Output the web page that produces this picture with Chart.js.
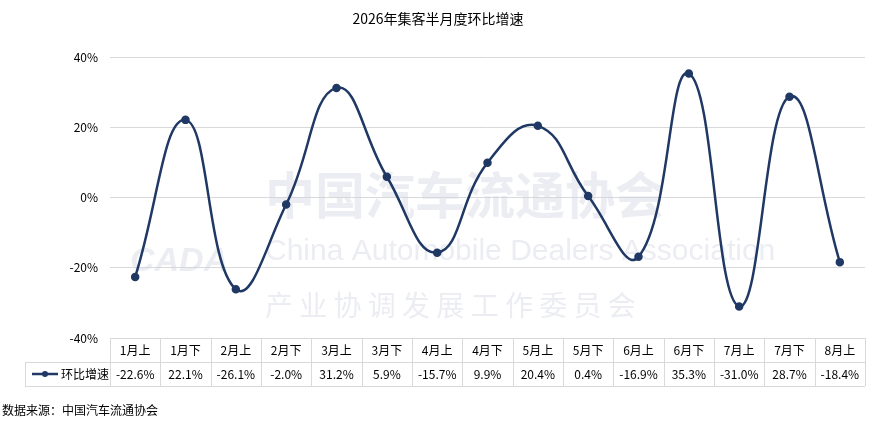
<!DOCTYPE html>
<html><head><meta charset="utf-8">
<script src="https://cdn.jsdelivr.net/npm/chart.js@4"></script>
<style>body{margin:0;background:#fff}#w{width:877px;height:422px}</style>
</head><body><div id="w"><canvas id="c" width="877" height="422"></canvas></div>
<script>
const categories=['1月上','1月下','2月上','2月下','3月上','3月下','4月上','4月下','5月上','5月下','6月上','6月下','7月上','7月下','8月上'];
const growth=[-22.6,22.1,-26.1,-2.0,31.2,5.9,-15.7,9.9,20.4,0.4,-16.9,35.3,-31.0,28.7,-18.4];
const seriesName='环比增速';
const titleText='2026年集客半月度环比增速';
const sourceText='数据来源：中国汽车流通协会';
const FONT='"Microsoft YaHei","Noto Sans CJK SC",sans-serif';
const lineColor='#203864', gridColor='#d9d9d9';
const deco={id:'deco',
 beforeDatasetsDraw(ch){const c=ch.ctx;c.save();
  c.fillStyle='rgba(205,210,222,0.4)';c.textBaseline='middle';
  c.font='bold 50px '+FONT;c.fillText('中国汽车流通协会',265,195);
  c.font='30px Arial, "Liberation Sans"';c.fillText('China Automobile Dealers Association',265,252);
  c.font='28px '+FONT;c.fillText('产 业 协 调 发 展 工 作 委 员 会',265,305);
  c.font='bold italic 34px Arial';c.fillText('CADA',130,262);
  c.restore();},
 afterDraw(ch){const c=ch.ctx,x=ch.scales.x,a=ch.chartArea;c.save();
  c.fillStyle='#000';c.textAlign='center';c.textBaseline='middle';
  c.font='14px '+FONT;c.fillText(titleText,438,19);
  const n=categories.length,w=(a.right-a.left)/n,t=a.bottom,r1=t+24,r2=t+48;
  c.strokeStyle=gridColor;c.lineWidth=1;c.beginPath();
  c.moveTo(a.left,t+.5);c.lineTo(a.right,t+.5);
  c.moveTo(25,r1+.5);c.lineTo(a.right,r1+.5);c.moveTo(25,r2+.5);c.lineTo(a.right,r2+.5);
  c.moveTo(25.5,r1);c.lineTo(25.5,r2);
  for(let i=0;i<=n;i++){const xx=Math.round(a.left+i*w)+.5;c.moveTo(xx,t);c.lineTo(xx,r2);}
  c.stroke();
  c.font='12px '+FONT;c.fillStyle='#000';
  categories.forEach((k,i)=>{const xx=x.getPixelForValue(i);c.fillText(k,xx,t+12);
   c.fillText(growth[i].toFixed(1)+'%',xx,r1+12);});
  c.strokeStyle=lineColor;c.lineWidth=2.5;c.beginPath();c.moveTo(32,r1+12);c.lineTo(58,r1+12);c.stroke();
  c.fillStyle=lineColor;c.beginPath();c.arc(45,r1+12,3,0,7);c.fill();
  c.fillStyle='#000';c.textAlign='left';c.fillText(seriesName,61,r1+12);
  c.fillText(sourceText,2,410);
  c.restore();}};
new Chart(document.getElementById('c'),{type:'line',
 data:{labels:categories,datasets:[{label:seriesName,data:growth,borderColor:lineColor,backgroundColor:lineColor,
  borderWidth:2.5,tension:0.45,pointRadius:3,pointHoverRadius:3}]},
 options:{responsive:false,animation:false,events:[],
  layout:{padding:{top:57,bottom:84,right:12,left:0}},
  plugins:{legend:{display:false},title:{display:false},tooltip:{enabled:false}},
  scales:{x:{offset:true,grid:{display:false},border:{display:false},ticks:{display:false},afterFit(s){s.height=0;}},
   y:{min:-40,max:40,ticks:{stepSize:20,color:'#000',font:{size:12,family:FONT},padding:12,callback:v=>v+'%'},
    grid:{color:gridColor,drawTicks:false},border:{display:false},afterFit(s){s.width=110;}}}},
 plugins:[deco]});
</script></body></html>
